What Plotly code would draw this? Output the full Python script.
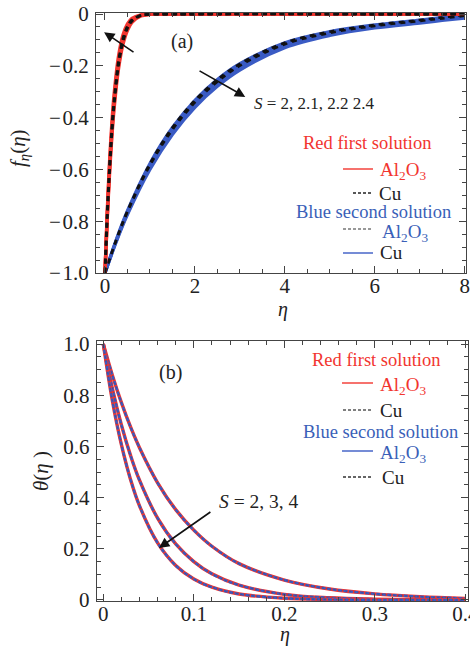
import plotly.graph_objects as go

# ---------------- data ----------------
S_top = ["2", "2.1", "2.2", "2.4"]

# first solution f'(eta) (Al2O3 red, Cu black dashed)
eta_first = [0, 0.05, 0.1, 0.15, 0.2, 0.3, 0.4, 0.5, 0.6, 0.8, 1.0, 1.5, 8.0]
first_S20 = [-1, -0.7912, -0.6201, -0.4813, -0.3700, -0.2125, -0.1175, -0.0625, -0.0320, -0.0075, -0.0015, 0, 0]
first_S21 = [-1, -0.7832, -0.6071, -0.4657, -0.3535, -0.1975, -0.1058, -0.0543, -0.0268, -0.0057, -0.0010, 0, 0]
first_S22 = [-1, -0.7753, -0.5943, -0.4505, -0.3376, -0.1833, -0.0951, -0.0472, -0.0224, -0.0044, -0.0007, 0, 0]
first_S24 = [-1, -0.7635, -0.5756, -0.4285, -0.3150, -0.1639, -0.0810, -0.0381, -0.0170, -0.0029, -0.0004, 0, 0]

# second solution f'(eta) (Al2O3 dashed, Cu blue)
eta_second = [0, 0.25, 0.5, 1, 1.5, 2, 2.5, 3, 4, 5, 6, 7, 7.5, 8]
second_S20 = [-1, -0.8715, -0.7596, -0.5769, -0.4382, -0.3329, -0.2528, -0.1920, -0.1108, -0.068, -0.042, -0.023, -0.013, -0.003]
second_S21 = [-1, -0.8744, -0.7645, -0.5845, -0.4469, -0.3416, -0.2612, -0.1997, -0.1167, -0.073, -0.046, -0.027, -0.017, -0.007]
second_S22 = [-1, -0.8772, -0.7695, -0.5922, -0.4557, -0.3507, -0.2698, -0.2076, -0.1230, -0.078, -0.050, -0.031, -0.021, -0.011]
second_S24 = [-1, -0.8803, -0.7749, -0.6005, -0.4653, -0.3606, -0.2794, -0.2165, -0.1300, -0.083, -0.054, -0.035, -0.025, -0.016]

# temperature theta(eta) for S = 2, 3, 4
S_bot = ["2", "3", "4"]
eta_theta = [0, 0.01, 0.02, 0.03, 0.04, 0.06, 0.08, 0.1, 0.12, 0.15, 0.2, 0.25, 0.3, 0.35, 0.4]
theta_S2 = [1, 0.878, 0.771, 0.677, 0.595, 0.458, 0.353, 0.273, 0.210, 0.142, 0.078, 0.043, 0.024, 0.013, 0.006]
theta_S3 = [1, 0.827, 0.684, 0.566, 0.468, 0.320, 0.219, 0.150, 0.102, 0.058, 0.022, 0.0087, 0.0034, 0.0013, 0.0005]
theta_S4 = [1, 0.779, 0.607, 0.472, 0.368, 0.223, 0.135, 0.082, 0.050, 0.0235, 0.0067, 0.0019, 0.0006, 0.0002, 0.0]

top_xticks = [0, 2, 4, 6, 8]
top_yticks = [0, -0.2, -0.4, -0.6, -0.8, -1.0]
top_yticktext = ["0", "\u2212\u200a0.2", "\u2212\u200a0.4", "\u2212\u200a0.6", "\u2212\u200a0.8", "\u2212\u200a1.0"]
bot_xticks = [0, 0.1, 0.2, 0.3, 0.4]
bot_xticktext = ["0", "0.1", "0.2", "0.3", "0.4"]
bot_yticks = [0, 0.2, 0.4, 0.6, 0.8, 1.0]
bot_yticktext = ["0", "0.2", "0.4", "0.6", "0.8", "1.0"]

# ---------------- styling ----------------
W, H = 470, 646
RED = "#f2352f"
BLUE = "#3a5bc4"
BLUE_TXT = "#3a5fb8"
AX = "#444444"
FONT = "Liberation Serif, Times New Roman, DejaVu Serif, serif"

def PX(x):
    return x / W

def PY(y):
    return 1 - y / H

fig = go.Figure()

first_sets = [first_S20, first_S21, first_S22, first_S24]
second_sets = [second_S20, second_S21, second_S22, second_S24]

# blue second solution (Cu)
for s, v in zip(S_top, second_sets):
    fig.add_trace(go.Scatter(x=eta_second, y=v, mode="lines", xaxis="x", yaxis="y",
                             line=dict(color=BLUE, width=3.2, shape="spline"),
                             name="Cu second S=" + s, showlegend=False, hoverinfo="skip"))
# second solution Al2O3 dashed
for s, v in zip(S_top, second_sets[:2]):
    fig.add_trace(go.Scatter(x=eta_second, y=v, mode="lines", xaxis="x", yaxis="y",
                             line=dict(color="#111111", width=2.5, dash="5px,5px", shape="spline"),
                             name="Al2O3 second S=" + s, showlegend=False, hoverinfo="skip"))
# red first solution (Al2O3)
for s, v in zip(S_top, first_sets):
    fig.add_trace(go.Scatter(x=eta_first, y=v, mode="lines", xaxis="x", yaxis="y",
                             line=dict(color=RED, width=3.4, shape="spline", smoothing=0.8),
                             name="Al2O3 first S=" + s, showlegend=False, hoverinfo="skip"))
# first solution Cu dashed
for s, v in zip(S_top, first_sets[1:3]):
    fig.add_trace(go.Scatter(x=eta_first, y=v, mode="lines", xaxis="x", yaxis="y",
                             line=dict(color="#111111", width=2.8, dash="5px,4px", shape="spline", smoothing=0.8),
                             name="Cu first S=" + s, showlegend=False, hoverinfo="skip"))

# bottom panel
theta_sets = [theta_S2, theta_S3, theta_S4]
for s, v in zip(S_bot, theta_sets):
    fig.add_trace(go.Scatter(x=eta_theta, y=v, mode="lines", xaxis="x2", yaxis="y2",
                             line=dict(color=RED, width=3.4, shape="spline"),
                             name="Al2O3 first S=" + s, showlegend=False, hoverinfo="skip"))
    fig.add_trace(go.Scatter(x=eta_theta, y=v, mode="lines", xaxis="x2", yaxis="y2",
                             line=dict(color=BLUE, width=2.4, dash="4px,1.5px", shape="spline"),
                             name="Al2O3 second S=" + s, showlegend=False, hoverinfo="skip"))
    fig.add_trace(go.Scatter(x=eta_theta, y=v, mode="lines", xaxis="x2", yaxis="y2",
                             line=dict(color="rgba(60,60,60,0.35)", width=0.8, dash="2px,2px", shape="spline"),
                             name="Cu S=" + s, showlegend=False, hoverinfo="skip"))

tickfont = dict(family=FONT, size=21, color="#222222")
common = dict(showgrid=False, zeroline=False, showline=True, linecolor=AX, linewidth=1,
              mirror="allticks", ticks="inside", tickcolor=AX, ticklen=7, tickwidth=1,
              tickfont=tickfont, automargin=False, ticklabeloverflow="allow")

fig.update_layout(
    width=W, height=H, margin=dict(l=0, r=0, t=0, b=0),
    paper_bgcolor="white", plot_bgcolor="white", showlegend=False,
    font=dict(family=FONT),
    xaxis=dict(domain=[PX(96), PX(466)], range=[-0.2, 8.03], anchor="y",
               tickmode="array", tickvals=top_xticks, ticktext=[str(t) for t in top_xticks],
               minor=dict(tickmode="linear", tick0=0, dtick=0.5, ticks="inside", ticklen=4, tickcolor=AX),
               ticklabelstandoff=-6, **common),
    yaxis=dict(domain=[PY(273), PY(13)], range=[-1.0, 0.004], anchor="x",
               tickmode="array", tickvals=top_yticks, ticktext=top_yticktext,
               minor=dict(tickmode="linear", tick0=0, dtick=0.05, ticks="inside", ticklen=4, tickcolor=AX),
               ticklabelstandoff=2, **common),
    xaxis2=dict(domain=[PX(96.7), PX(468)], range=[-0.0073, 0.403], anchor="y2",
                tickmode="array", tickvals=bot_xticks, ticktext=bot_xticktext,
                minor=dict(tickmode="linear", tick0=0, dtick=0.02, ticks="inside", ticklen=4, tickcolor=AX),
                ticklabelstandoff=-6, **common),
    yaxis2=dict(domain=[PY(601), PY(341)], range=[-0.004, 1.012], anchor="x2",
                tickmode="array", tickvals=bot_yticks, ticktext=bot_yticktext,
                minor=dict(tickmode="linear", tick0=0, dtick=0.05, ticks="inside", ticklen=4, tickcolor=AX),
                ticklabelstandoff=2, **common),
)

ann = []

def text(x, y, s, size=18.5, color="#222222", xanchor="center", angle=0):
    ann.append(dict(x=PX(x), y=PY(y), xref="paper", yref="paper", text=s, showarrow=False,
                    xanchor=xanchor, yanchor="middle", textangle=angle,
                    font=dict(family=FONT, size=size, color=color)))

# axis titles
text(19, 148, "<i>f</i><sub><i>\u03b7</i></sub>(<i>\u03b7</i>)", size=21, angle=-90)
text(283, 309, "<i>\u03b7</i>", size=20)
text(41, 471, "<i>\u03b8</i>(<i>\u03b7</i> )", size=21, angle=-90)
text(285, 634, "<i>\u03b7</i>", size=20)

# panel labels
text(182, 42, "(a)", size=20)
text(170, 372, "(b)", size=20)

# top legend
text(367, 143, "Red first solution", color=RED)
text(378, 171, "Al<sub>2</sub>O<sub>3</sub>", color=RED, xanchor="left", size=19)
text(377, 193, "Cu", xanchor="left", size=19)
text(373, 212, "Blue second solution", color=BLUE_TXT)
text(380, 233, "Al<sub>2</sub>O<sub>3</sub>", color=BLUE_TXT, xanchor="left", size=19)
text(378, 252, "Cu", xanchor="left", size=19)

# bottom legend
text(376, 360, "Red first solution", color=RED)
text(378, 386, "Al<sub>2</sub>O<sub>3</sub>", color=RED, xanchor="left", size=19)
text(378, 410, "Cu", xanchor="left", size=19)
text(380, 432, "Blue second solution", color=BLUE_TXT)
text(378, 454, "Al<sub>2</sub>O<sub>3</sub>", color=BLUE_TXT, xanchor="left", size=19)
text(380, 477, "Cu", xanchor="left", size=19)

# S annotations and arrows
ann.append(dict(x=3.27, y=-0.344, xref="x", yref="y", text="<i>S</i> = 2, 2.1, 2.2 2.4", showarrow=False,
                xanchor="left", yanchor="middle", font=dict(family=FONT, size=17, color="#222222")))
ann.append(dict(x=0.1256, y=0.383, xref="x2", yref="y2", text="<i>S</i> = 2, 3, 4", showarrow=False,
                xanchor="left", yanchor="middle", font=dict(family=FONT, size=19.5, color="#222222")))
ann.append(dict(x=-0.02, y=-0.07, ax=0.668, ay=-0.151, xref="x", yref="y", axref="x", ayref="y",
                text="", showarrow=True, arrowhead=2, arrowsize=1.3, arrowwidth=1.6, arrowcolor="#111111"))
ann.append(dict(x=3.12, y=-0.32, ax=2.07, ay=-0.216, xref="x", yref="y", axref="x", ayref="y",
                text="", showarrow=True, arrowhead=2, arrowsize=1.3, arrowwidth=1.6, arrowcolor="#111111"))
ann.append(dict(x=0.0615, y=0.203, ax=0.120, ay=0.348, xref="x2", yref="y2", axref="x2", ayref="y2",
                text="", showarrow=True, arrowhead=2, arrowsize=1.3, arrowwidth=1.6, arrowcolor="#111111"))

fig.update_layout(annotations=ann)

# legend line samples
shapes = []

def seg(x0, x1, y, color, dash="solid", width=1.4):
    shapes.append(dict(type="line", xref="paper", yref="paper", x0=PX(x0), x1=PX(x1), y0=PY(y), y1=PY(y),
                       line=dict(color=color, width=width, dash=dash)))

seg(343, 373, 169, RED)
seg(353, 373, 193, "#222222", dash="3px,2px")
seg(343, 372, 229, "#777777", dash="3px,2px")
seg(343, 373, 253, BLUE)
seg(342, 373, 383, RED)
seg(343, 373, 410, "#555555", dash="3px,2px")
seg(342, 373, 451, BLUE)
seg(343, 373, 477, "#333333", dash="3px,2px")
fig.update_layout(shapes=shapes)

fig.write_html("out.html", config={"displayModeBar": False},
               post_script="document.body.style.margin='0px';")
